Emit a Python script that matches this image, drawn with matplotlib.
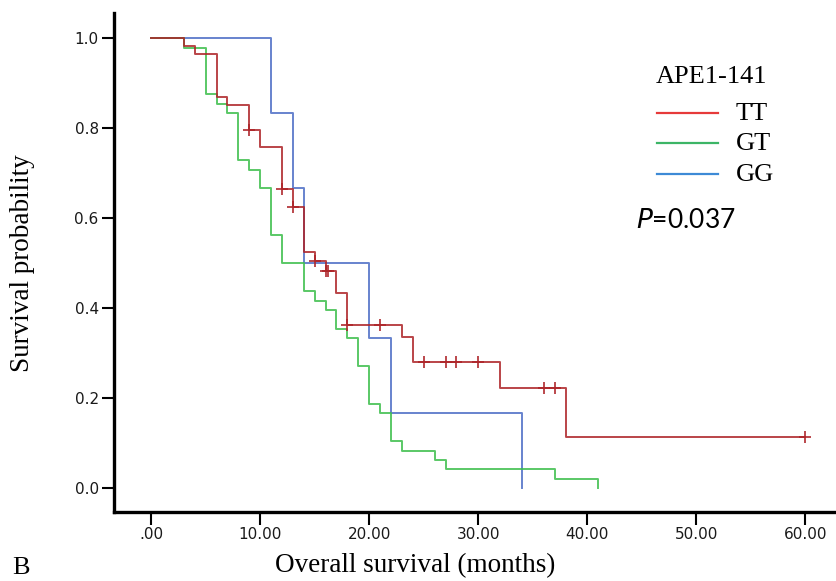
import matplotlib
matplotlib.use('Agg')
import matplotlib.pyplot as plt
from matplotlib.lines import Line2D

# Kaplan-Meier step points (time in months, survival)
tt_time = [0, 3, 4, 6, 7, 9, 10, 12, 13, 14, 15, 16, 17, 18, 23, 24, 32, 38, 60]
tt_surv = [1.0, 0.982, 0.964, 0.870, 0.851, 0.797, 0.758, 0.664, 0.625, 0.524,
           0.504, 0.483, 0.434, 0.362, 0.336, 0.280, 0.223, 0.113, 0.113]
tt_cens_time = [9, 12, 13, 15, 16, 16.2, 18, 21, 25, 27, 28, 30, 36, 37, 60]
tt_cens_surv = [0.797, 0.664, 0.625, 0.504, 0.483, 0.483, 0.362, 0.362,
                0.280, 0.280, 0.280, 0.280, 0.223, 0.223, 0.113]

gt_time = [0, 3, 5, 6, 7, 8, 9, 10, 11, 12, 14, 15, 16, 17, 18, 19, 20, 21, 22,
           23, 26, 27, 37, 41]
gt_surv = [1.0, 0.979, 0.875, 0.854, 0.833, 0.729, 0.708, 0.667, 0.563, 0.500,
           0.438, 0.417, 0.396, 0.354, 0.333, 0.271, 0.188, 0.167, 0.104,
           0.083, 0.063, 0.042, 0.021, 0.0]

gg_time = [0, 11, 13, 14, 20, 22, 34]
gg_surv = [1.0, 0.833, 0.667, 0.500, 0.333, 0.167, 0.0]

groups = ['TT', 'GT', 'GG']
xticks = [0, 10, 20, 30, 40, 50, 60]
xtick_labels = ['.00', '10.00', '20.00', '30.00', '40.00', '50.00', '60.00']
yticks = [0.0, 0.2, 0.4, 0.6, 0.8, 1.0]

red, green, blue = '#ad2428', '#3dbe4c', '#4d6ec6'
legend_cols = ['#e63a3a', '#3cb566', '#3d8ad6']

W, H = 836, 581
fig = plt.figure(figsize=(W / 100, H / 100), dpi=100)
ax = fig.add_axes([114 / W, 1 - 512 / H, 1 - 114 / W, (512 - 13) / H])

ax.plot(gg_time, gg_surv, drawstyle='steps-post', color=blue, lw=1.4, alpha=0.85)
ax.plot(gt_time, gt_surv, drawstyle='steps-post', color=green, lw=1.4, alpha=0.85)
ax.plot(tt_time, tt_surv, drawstyle='steps-post', color=red, lw=1.4, alpha=0.85)
ax.plot(tt_cens_time, tt_cens_surv, ls='none', marker='+', ms=9, mew=1.3,
        color=red, alpha=0.9)

ax.set_xlim(-3.4, 62.8)
ax.set_ylim(-0.053, 1.056)
ax.set_xticks(xticks)
ax.set_xticklabels(xtick_labels)
ax.set_yticks(yticks)
ax.set_yticklabels(['%.1f' % v for v in yticks])

for s in ['top', 'right']:
    ax.spines[s].set_visible(False)
for s in ['left', 'bottom']:
    ax.spines[s].set_linewidth(2.4)
ax.tick_params(direction='out', length=9, width=1.5, labelsize=11, pad=2,
               colors='black')
for lab in ax.get_xticklabels() + ax.get_yticklabels():
    lab.set_color('#1a1a1a')

serif = 'Liberation Serif'
ax.set_xlabel('Overall survival (months)', family=serif, fontsize=19.5, va='top')
ax.xaxis.set_label_coords((415 - 114) / 722, (512 - 553) / 499)
ax.set_ylabel('Survival probability', family=serif, fontsize=19.5, va='top')
ax.yaxis.set_label_coords((10 - 114) / 722, (512 - 263) / 499)
fig.text(12 / W, 1 - 568 / H, 'B', family=serif, fontsize=19, va='center')

# legend drawn by hand so the title gap and row spacing match
fig.text(656 / W, 1 - 77 / H, 'APE1-141', family=serif, fontsize=19,
         va='center', ha='left')
for lab, col, yy in zip(groups, legend_cols, [113, 143, 174]):
    fig.add_artist(Line2D([657 / W, 718 / W], [1 - yy / H, 1 - yy / H],
                          transform=fig.transFigure, color=col, lw=1.6))
    fig.text(736 / W, 1 - (yy + 1) / H, lab, family=serif, fontsize=19,
             va='center', ha='left')

fig.text(636 / W, 1 - 220 / H, r'$\it{P}$=0.037', family='Lato', fontsize=19,
         va='center')

fig.savefig('out.png', dpi=100)
